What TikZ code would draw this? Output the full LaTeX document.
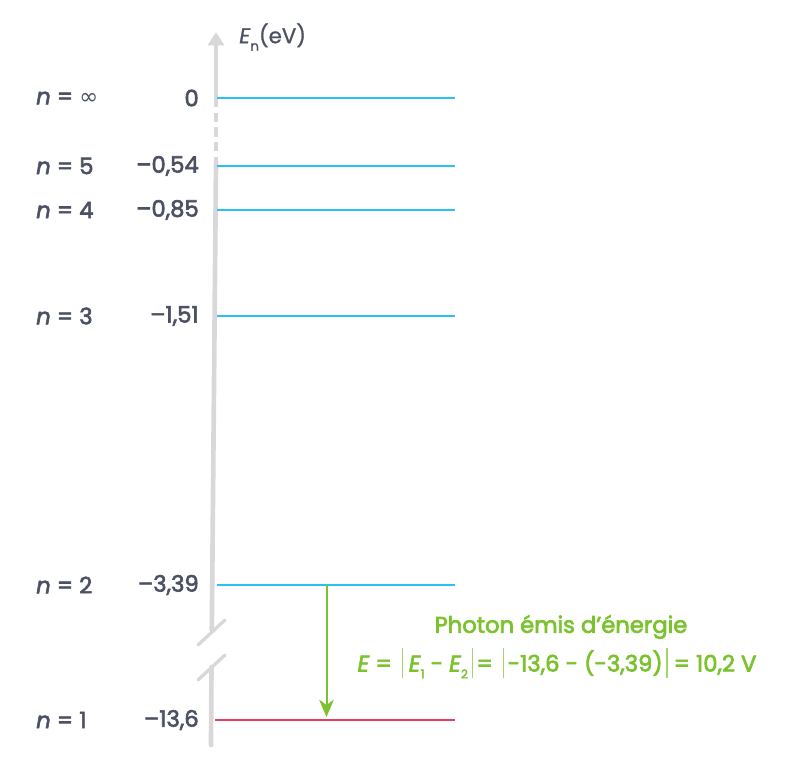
\documentclass[tikz,border=0pt]{standalone}
\usepackage{fontspec}
\setmainfont{Poppins}
\newfontfamily\symf{DejaVu Sans}
\usetikzlibrary{arrows.meta}
\definecolor{txt}{HTML}{4B5063}
\definecolor{lvl}{HTML}{29C1F5}
\definecolor{red1}{HTML}{E0405E}
\definecolor{grn}{HTML}{7CC22E}
\definecolor{axg}{HTML}{D8D8D8}
\tikzset{
  lbl/.style={text=txt,font=\fontsize{17}{20}\selectfont\addfontfeatures{FakeBold=2.6},inner sep=0pt},
  level/.style={lvl,line width=1.3pt},
  axisln/.style={axg,line width=3.5pt},
  gtxt/.style={text=grn,font=\fontsize{17}{20}\selectfont\addfontfeatures{FakeBold=3},inner sep=0pt},
}
\newcommand{\vb}{\textcolor{grn!70}{\rule[-0.3em]{0.8pt}{1.35em}}}
\newcommand{\sbs}[1]{\raisebox{-0.3em}{\fontsize{9}{9}\selectfont #1}}
\begin{document}
\begin{tikzpicture}[x=0.75pt,y=-0.75pt]
\useasboundingbox (0,0) rectangle (786,777);
% axis
\coordinate (atop) at (216,32);
\coordinate (a0) at (216,98);
\coordinate (d1) at (216,163);
\coordinate (b1) at (211.8,630);
\coordinate (b2) at (211.5,667);
\coordinate (abot) at (211,745);
\draw[axisln,-{Triangle[width=12pt,length=10pt]}] (a0) -- (atop);
\draw[axg,line width=2.5pt,dash pattern=on 7pt off 4pt] (a0) -- (d1);
\draw[axisln,line cap=round] (d1) -- (b1);
\draw[axisln,line cap=round] (b2) -- (abot);
\coordinate (s1a) at (198,645);
\coordinate (s1b) at (225,620);
\coordinate (s2a) at (198,680);
\coordinate (s2b) at (225,655);
\draw[axg,line width=2.5pt,line cap=round] (s1a) -- (s1b);
\draw[axg,line width=2.5pt,line cap=round] (s2a) -- (s2b);
\node[lbl,anchor=west,font=\fontsize{16}{19}\selectfont\addfontfeatures{FakeBold=1}] (en) at (239,37) {\textit{E}\raisebox{-0.35em}{\fontsize{10}{10}\selectfont n}(eV)};
% levels
\foreach \nm/\y/\nn/\ev in {inf/98/{{\symf ∞}}/{0}, l5/166/5/{\textendash0,54}, l4/210/4/{\textendash0,85}, l3/316/3/{\textendash1,51}, l2/585/2/{\textendash3,39}}{
  \coordinate (\nm a) at (217,\y);
  \coordinate (\nm b) at (455,\y);
  \draw[level] (\nm a) -- (\nm b);
  \node[lbl,anchor=west] (\nm n) at (36,\y) {\textit{n} = \nn};
  \node[lbl,anchor=east] (\nm e) at (199,\y) {\ev};
}
\coordinate (l1a) at (215,720);
\coordinate (l1b) at (455,720);
\draw[red1,line width=1.3pt] (l1a) -- (l1b);
\node[lbl,anchor=west] (l1n) at (36,720) {\textit{n} = 1};
\node[lbl,anchor=east] (l1e) at (199,720) {\textendash13,6};
% transition
\coordinate (t1) at (326.5,585);
\coordinate (t2) at (326.5,717);
\draw[grn,line width=1.5pt,-{Stealth[width=11pt,length=13pt,inset=4pt]}] (t1) -- (t2);
\node[gtxt] (ph) at (561,627) {Photon émis d’énergie};
\node[gtxt] (eq) at (557,663) {\textit{E} = \,\vb\ \textit{E}\sbs{1} - \textit{E}\sbs{2}\,\vb\,= \,\vb\,-13,6 - (-3,39)\,\vb\ = 10,2 V};
\end{tikzpicture}
\end{document}
